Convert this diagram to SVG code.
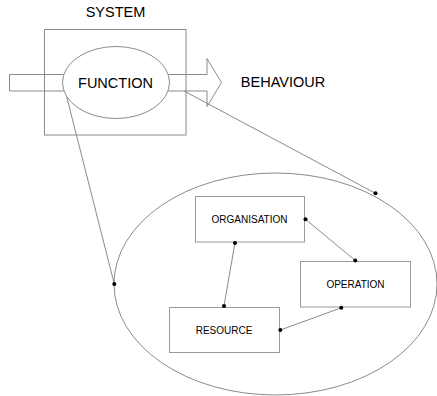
<svg xmlns="http://www.w3.org/2000/svg" width="437" height="396" viewBox="0 0 437 396">
<style>
.ln{fill:none;stroke:#8a8a8a;stroke-width:1}
.bx{fill:#fff;stroke:#9a9a9a;stroke-width:1}
.t{font-family:"Liberation Sans",Arial,sans-serif;fill:#000;text-anchor:middle}
.big{font-size:14.5px}
.sm{font-size:10px}
.dot{fill:#000}
</style>
<rect width="437" height="396" fill="#fff"/>
<g id="system">
<text class="t big" x="115.5" y="17">SYSTEM</text>
<rect class="ln" x="44.5" y="29.5" width="141.5" height="105.5"/>
</g>
<g id="input">
<path class="ln" d="M70,74.5 H9.5 V91 H70"/>
</g>
<g id="behaviour">
<path class="ln" d="M160,74.5 H207 V58.5 L221.5,82.5 L207,106.5 V91 H160"/>
<text class="t big" x="283" y="87">BEHAVIOUR</text>
</g>
<g id="function">
<ellipse cx="116" cy="82.5" rx="53.5" ry="36" fill="#fff" stroke="#8a8a8a"/>
<text class="t big" x="115.5" y="87.5">FUNCTION</text>
</g>
<g id="detail">
<ellipse class="ln" cx="275.5" cy="284" rx="161.5" ry="111"/>
</g>
<g id="organisation">
<rect class="bx" x="195.5" y="196.5" width="109" height="45.5"/>
<text class="t sm" x="249.5" y="222.5">ORGANISATION</text>
</g>
<g id="operation">
<rect class="bx" x="300.5" y="261.5" width="110" height="45.5"/>
<text class="t sm" x="355.5" y="287.5">OPERATION</text>
</g>
<g id="resource">
<rect class="bx" x="169.5" y="307.5" width="110" height="45"/>
<text class="t sm" x="224" y="333.5">RESOURCE</text>
</g>
<g id="connectors">
<line class="ln" x1="184" y1="91" x2="375.5" y2="193.3"/>
<line class="ln" x1="66.7" y1="96.7" x2="114.3" y2="284"/>
<line class="ln" x1="235" y1="242.5" x2="224" y2="306"/>
<line class="ln" x1="305.5" y1="219.3" x2="355.3" y2="260.5"/>
<line class="ln" x1="341.3" y1="307.8" x2="280.3" y2="330"/>
<circle class="dot" cx="375.5" cy="193.3" r="2"/>
<circle class="dot" cx="114.3" cy="284" r="2"/>
<circle class="dot" cx="235" cy="243" r="2"/>
<circle class="dot" cx="224" cy="306" r="2"/>
<circle class="dot" cx="305.5" cy="219.3" r="2"/>
<circle class="dot" cx="355.3" cy="260.5" r="2"/>
<circle class="dot" cx="341.3" cy="307.8" r="2"/>
<circle class="dot" cx="280.3" cy="330" r="2"/>
</g>
</svg>
